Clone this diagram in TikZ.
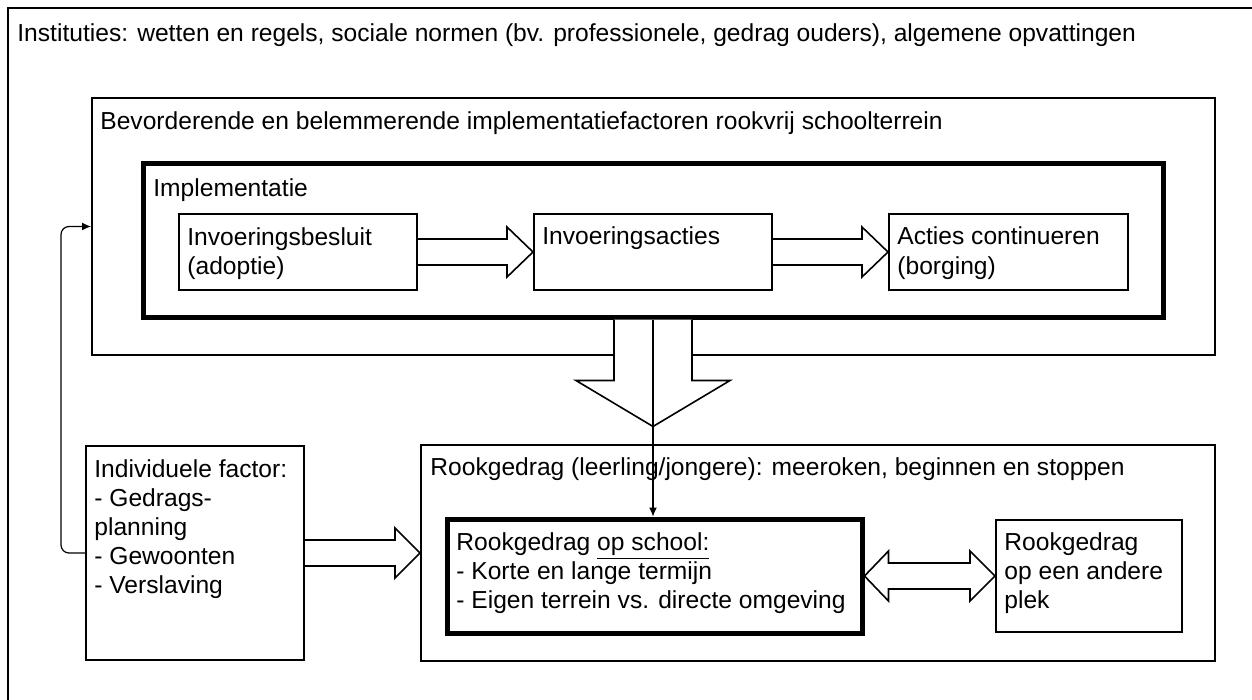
\documentclass[tikz,border=0pt]{standalone}
\usepackage{fontspec}
\setmainfont{Liberation Sans}
\usetikzlibrary{calc,fit,arrows.meta}
\begin{document}
\begin{tikzpicture}[x=0.5pt,y=-0.5pt,
  box/.style={draw,line width=1pt,fill=white,inner sep=0pt},
  thickbox/.style={box,line width=2.5pt},
  txt/.style={anchor=base west,inner sep=0pt,align=left,font=\fontsize{12.3}{14.5}\selectfont},
  blk/.style={draw,fill=white,line width=0.8pt},
  thin/.style={line width=0.6pt,-{Latex[length=4.5pt,width=4pt]}}]
 \useasboundingbox (0,0) rectangle (1252,700);
 % frames (multi-line texts sit on the baseline of their last line)
 \node[box,fit={(8,8) (1262,712)}] (inst) {};
 \node[txt] (insttxt) at (17,42) {Instituties: wetten en regels, sociale normen (bv. professionele, gedrag ouders), algemene opvattingen};
 \node[box,fit={(92,98) (1215,355)}] (beo) {};
 \node[txt] (beotxt) at (100,130) {Bevorderende en belemmerende implementatiefactoren rookvrij schoolterrein};
 \node[thickbox,fit={(143,164) (1163,317)}] (impl) {};
 \node[txt] (impltxt) at (153,197) {Implementatie};
 \node[box,fit={(179,214) (417,290)}] (besluit) {};
 \node[txt] (besluittxt) at (187,275) {Invoeringsbesluit\\(adoptie)};
 \node[box,fit={(534,214) (772,290)}] (acties) {};
 \node[txt] (actiestxt) at (542,245) {Invoeringsacties};
 \node[box,fit={(889,214) (1128,290)}] (borging) {};
 \node[txt] (borgingtxt) at (897,274) {Acties continueren\\(borging)};
 \node[box,fit={(421,445) (1215,661)}] (rook) {};
 \node[txt] (rooktxt) at (430,475) {Rookgedrag (leerling/jongere): meeroken, beginnen en stoppen};
 \node[thickbox,fit={(447,519) (862,633)}] (school) {};
 \node[txt] (schooltxt) at (456,608) {Rookgedrag \underline{op school:}\\- Korte en lange termijn\\- Eigen terrein vs. directe omgeving};
 \node[box,fit={(996,520) (1182,632)}] (plek) {};
 \node[txt] (plektxt) at (1004,608) {Rookgedrag\\op een andere\\plek};
 \node[box,fit={(86,446) (304,660)}] (indiv) {};
 \node[txt] (indivtxt) at (94,593) {Individuele factor:\\- Gedrags-\\planning\\- Gewoonten\\- Verslaving};
 % block arrows
 \draw[blk] ($(besluit.east)+(0,-13)$) -- ($(acties.west)+(-26,-13)$) -- ($(acties.west)+(-26,-25)$) -- (acties.west)
   -- ($(acties.west)+(-26,25)$) -- ($(acties.west)+(-26,13)$) -- ($(besluit.east)+(0,13)$);
 \draw[blk] ($(acties.east)+(0,-13)$) -- ($(borging.west)+(-26,-13)$) -- ($(borging.west)+(-26,-25)$) -- (borging.west)
   -- ($(borging.west)+(-26,25)$) -- ($(borging.west)+(-26,13)$) -- ($(acties.east)+(0,13)$);
 \draw[blk] ($(indiv.east)+(0,-13)$) -- ($(rook.west)+(-25,-13)$) -- ($(rook.west)+(-25,-25)$) -- (rook.west)
   -- ($(rook.west)+(-25,25)$) -- ($(rook.west)+(-25,13)$) -- ($(indiv.east)+(0,13)$);
 \draw[blk] (school.east) -- ($(school.east)+(24,-25)$) -- ($(school.east)+(24,-13)$) -- ($(plek.west)+(-25,-13)$)
   -- ($(plek.west)+(-25,-25)$) -- (plek.west) -- ($(plek.west)+(-25,25)$) -- ($(plek.west)+(-25,13)$)
   -- ($(school.east)+(24,13)$) -- ($(school.east)+(24,25)$) -- cycle;
 \coordinate (dtip) at ($(impl.south)+(0,107)$);
 \draw[blk] ($(impl.south)+(-39,0)$) -- ($(dtip)+(-39,-46)$) -- ($(dtip)+(-77,-46)$) -- (dtip)
   -- ($(dtip)+(77,-46)$) -- ($(dtip)+(39,-46)$) -- ($(impl.south)+(39,0)$);
 % thin connectors
 \draw[thin] (impl.south) -- (impl.south |- school.north);
 \draw[thin,rounded corners=4pt] (indiv.west) -- ++(-24,0) |- (beo.west);
\end{tikzpicture}
\end{document}
